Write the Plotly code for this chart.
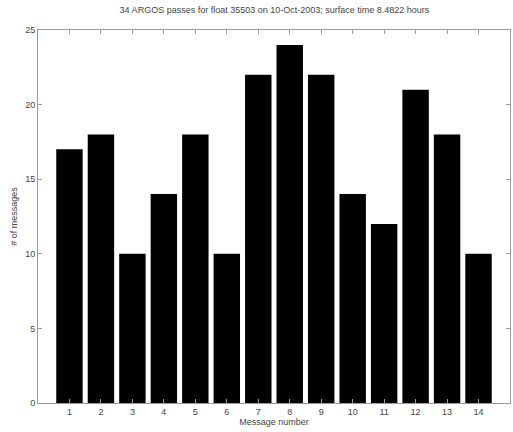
import plotly.graph_objects as go

# Message counts per ARGOS message number
message_numbers = list(range(1, 15))
message_counts = [17, 18, 10, 14, 18, 10, 22, 24, 22, 14, 12, 21, 18, 10]

title_text = "34 ARGOS passes for float 35503 on 10-Oct-2003; surface time 8.4822 hours"
x_title = "Message number"
y_title = "# of messages"

axis_color = "#9a9a9a"
text_color = "#444444"
font_family = "Liberation Sans, Arial, sans-serif"

fig = go.Figure(
    go.Bar(
        x=message_numbers,
        y=message_counts,
        width=0.84,
        marker=dict(color="black", line=dict(width=0)),
    )
)

common_axis = dict(
    showline=True,
    linecolor=axis_color,
    linewidth=1,
    mirror="ticks",
    ticks="inside",
    ticklen=4,
    tickcolor=axis_color,
    showgrid=False,
    zeroline=False,
    tickfont=dict(size=9, color=text_color, family=font_family),
)

fig.update_layout(
    width=513,
    height=432,
    margin=dict(l=38, r=3, t=30, b=29),
    paper_bgcolor="white",
    plot_bgcolor="white",
    showlegend=False,
    font=dict(family=font_family, size=9, color=text_color),
    title=dict(
        text=title_text,
        x=0.535,
        xanchor="center",
        y=0.978,
        yanchor="middle",
        font=dict(size=9, color=text_color, family=font_family),
    ),
    xaxis=dict(
        range=[0, 15],
        tickmode="array",
        tickvals=message_numbers,
        ticktext=[str(v) for v in message_numbers],
        title=dict(text=x_title, standoff=2, font=dict(size=9, color=text_color)),
        **common_axis,
    ),
    yaxis=dict(
        range=[0, 25],
        tickmode="array",
        tickvals=[0, 5, 10, 15, 20, 25],
        title=dict(text=y_title, standoff=6, font=dict(size=9, color=text_color)),
        **common_axis,
    ),
)

fig.write_html("out.html")
